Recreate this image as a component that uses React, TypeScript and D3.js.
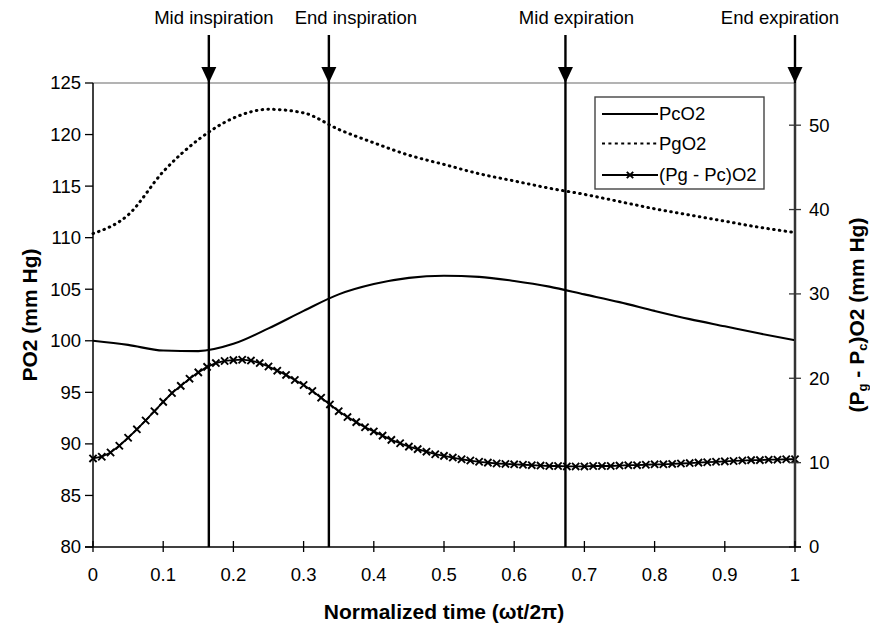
import React from "react";
import * as d3 from "d3";

// ---- data ----
const TIME_LINES = [0, 0.05, 0.1, 0.15, 0.2, 0.25, 0.3, 0.35, 0.4, 0.45, 0.5, 0.55, 0.6, 0.65, 0.7, 0.75, 0.8, 0.85, 0.9, 0.95, 1];
const PC_O2 = [100.0, 99.6, 99.05, 99.0, 99.7, 101.2, 102.9, 104.5, 105.5, 106.1, 106.3, 106.2, 105.8, 105.25, 104.5, 103.75, 102.9, 102.1, 101.4, 100.7, 100.05];
const PG_O2 = [110.4, 112.2, 116.4, 119.5, 121.6, 122.45, 122.1, 120.5, 119.2, 118.0, 117.1, 116.2, 115.5, 114.8, 114.2, 113.5, 112.8, 112.2, 111.6, 111.0, 110.5];

const TIME_DIFF = [
  0, 0.0125, 0.025, 0.0375, 0.05, 0.0625, 0.075, 0.0875, 0.1, 0.1125,
  0.125, 0.1375, 0.15, 0.1625, 0.175, 0.1875, 0.2, 0.2125, 0.225, 0.2375,
  0.25, 0.2625, 0.275, 0.2875, 0.3, 0.3125, 0.325, 0.3375, 0.35, 0.3625,
  0.375, 0.3875, 0.4, 0.4125, 0.425, 0.4375, 0.45, 0.4625, 0.475, 0.4875,
  0.5, 0.5125, 0.525, 0.5375, 0.55, 0.5625, 0.575, 0.5875, 0.6, 0.6125,
  0.625, 0.6375, 0.65, 0.6625, 0.675, 0.6875, 0.7, 0.7125, 0.725, 0.7375,
  0.75, 0.7625, 0.775, 0.7875, 0.8, 0.8125, 0.825, 0.8375, 0.85, 0.8625,
  0.875, 0.8875, 0.9, 0.9125, 0.925, 0.9375, 0.95, 0.9625, 0.975, 0.9875, 1,
];
const DIFF_O2 = [
  10.5, 10.7, 11.2, 12.0, 12.95, 13.95, 15.0, 16.1, 17.2, 18.25,
  19.1, 19.95, 20.7, 21.35, 21.8, 22.05, 22.15, 22.2, 22.1, 21.8,
  21.4, 20.9, 20.4, 19.8, 19.2, 18.5, 17.7, 16.9, 16.1, 15.4,
  14.8, 14.2, 13.7, 13.2, 12.7, 12.3, 11.9, 11.6, 11.3, 11.0,
  10.8, 10.6, 10.4, 10.25, 10.1, 10.0, 9.9, 9.85, 9.8, 9.75,
  9.7, 9.65, 9.6, 9.6, 9.55, 9.55, 9.55, 9.6, 9.6, 9.6,
  9.65, 9.7, 9.7, 9.75, 9.8, 9.8, 9.85, 9.9, 9.95, 10.0,
  10.05, 10.1, 10.15, 10.2, 10.25, 10.3, 10.3, 10.35, 10.35, 10.4, 10.4,
];

const X_TICKS = [0, 0.1, 0.2, 0.3, 0.4, 0.5, 0.6, 0.7, 0.8, 0.9, 1];
const X_TICK_LABELS = ["0", "0.1", "0.2", "0.3", "0.4", "0.5", "0.6", "0.7", "0.8", "0.9", "1"];
const LEFT_TICKS = [80, 85, 90, 95, 100, 105, 110, 115, 120, 125];
const RIGHT_TICKS = [0, 10, 20, 30, 40, 50];

const EVENT_TIMES = [0.165, 0.336, 0.673, 1];
const EVENT_LABELS = ["Mid inspiration", "End inspiration", "Mid expiration", "End expiration"];
const EVENT_LABEL_SHIFT = [5, 27, 11, -15];

const LEGEND_LABELS = ["PcO2", "PgO2", "(Pg - Pc)O2"];

// ---- layout ----
const W = 870;
const H = 628;
const X0 = 93;
const X1 = 795;
const YTOP = 83;
const YBOT = 547;
const FONT = "'Liberation Sans', Arial, Helvetica, sans-serif";
const FS = 18.5;
const TITLE_FS = 21;

export default function App() {
  const x = d3.scaleLinear().domain([0, 1]).range([X0, X1]);
  const yL = d3.scaleLinear().domain([80, 125]).range([YBOT, YTOP]);
  const yR = d3.scaleLinear().domain([0, 55]).range([YBOT, YTOP]);

  const lineL = d3
    .line<number>()
    .x((_, i) => x(TIME_LINES[i]))
    .y((d) => yL(d))
    .curve(d3.curveMonotoneX);
  const lineR = d3
    .line<number>()
    .x((_, i) => x(TIME_DIFF[i]))
    .y((d) => yR(d));

  const cross = (cx: number, cy: number, s: number) =>
    `M${cx - s},${cy - s}L${cx + s},${cy + s}M${cx - s},${cy + s}L${cx + s},${cy - s}`;

  const legX = 595;
  const legY = 97;
  const legRows = [114, 143.5, 175];

  return (
    <svg
      width={W}
      height={H}
      viewBox={`0 0 ${W} ${H}`}
      style={{ position: "absolute", left: 0, top: 0, background: "#fff" }}
      fontFamily={FONT}
    >
      <rect x={0} y={0} width={W} height={H} fill="#fff" />

      {/* top border of plot */}
      <line x1={X0} x2={X1} y1={YTOP} y2={YTOP} stroke="#9a9a9a" strokeWidth={1.5} />

      {/* series */}
      <path d={lineL(PG_O2) || ""} fill="none" stroke="#000" strokeWidth={3} strokeDasharray="0.6 5.2" strokeLinecap="round" />
      <path d={lineL(PC_O2) || ""} fill="none" stroke="#000" strokeWidth={2.1} />
      <path d={lineR(DIFF_O2) || ""} fill="none" stroke="#000" strokeWidth={1.8} />
      {DIFF_O2.map((v, i) => (
        <path key={i} d={cross(x(TIME_DIFF[i]), yR(v), 3.6)} stroke="#000" strokeWidth={1.9} fill="none" />
      ))}

      {/* event lines and arrows */}
      {EVENT_TIMES.map((t, i) => {
        const ex = x(t);
        return (
          <g key={i}>
            <line x1={ex} x2={ex} y1={35} y2={YBOT} stroke="#000" strokeWidth={2.4} />
            <path d={`M${ex - 7.5},${67} L${ex + 7.5},${67} L${ex},${YTOP} Z`} fill="#000" />
            <text x={ex + EVENT_LABEL_SHIFT[i]} y={24} textAnchor="middle" fontSize={FS} fill="#000">
              {EVENT_LABELS[i]}
            </text>
          </g>
        );
      })}

      {/* left axis */}
      <line x1={X0} x2={X0} y1={YTOP} y2={YBOT} stroke="#000" strokeWidth={1.5} />
      {LEFT_TICKS.map((v) => (
        <g key={v}>
          <line x1={X0 - 8} x2={X0} y1={yL(v)} y2={yL(v)} stroke="#000" strokeWidth={1.3} />
          <text x={X0 - 12} y={yL(v)} dy="0.35em" textAnchor="end" fontSize={FS} fill="#000">
            {v}
          </text>
        </g>
      ))}

      {/* right axis */}
      <line x1={X1} x2={X1} y1={YTOP} y2={YBOT} stroke="#333" strokeWidth={2} />
      {RIGHT_TICKS.map((v) => (
        <g key={v}>
          <line x1={X1 - 6} x2={X1 + 6} y1={yR(v)} y2={yR(v)} stroke="#333" strokeWidth={1.3} />
          <text x={X1 + 14} y={yR(v)} dy="0.35em" textAnchor="start" fontSize={FS} fill="#000">
            {v}
          </text>
        </g>
      ))}

      {/* bottom axis */}
      <line x1={X0 - 8} x2={X1 + 6} y1={YBOT} y2={YBOT} stroke="#000" strokeWidth={1.5} />
      {X_TICKS.map((v, i) => (
        <g key={v}>
          <line x1={x(v)} x2={x(v)} y1={YBOT - 6} y2={YBOT + 5} stroke="#000" strokeWidth={1.3} />
          <text x={x(v)} y={575} dy="0.35em" textAnchor="middle" fontSize={FS} fill="#000">
            {X_TICK_LABELS[i]}
          </text>
        </g>
      ))}

      {/* axis titles */}
      <text x={444} y={612} dy="0.35em" textAnchor="middle" fontSize={TITLE_FS} fontWeight="bold" fill="#000">
        Normalized time (ωt/2π)
      </text>
      <text transform={`translate(30,${(YTOP + YBOT) / 2}) rotate(-90)`} dy="0.35em" textAnchor="middle" fontSize={TITLE_FS} fontWeight="bold" fill="#000">
        PO2 (mm Hg)
      </text>
      <text transform={`translate(857,${(YTOP + YBOT) / 2}) rotate(-90)`} dy="0.35em" textAnchor="middle" fontSize={TITLE_FS} fontWeight="bold" fill="#000">
        (P<tspan fontSize={13} dy={3}>g</tspan>
        <tspan dy={-3}> - P</tspan>
        <tspan fontSize={13} dy={3}>c</tspan>
        <tspan dy={-3}>)O2 (mm Hg)</tspan>
      </text>

      {/* legend */}
      <rect x={legX} y={legY} width={169} height={92} fill="#fff" stroke="#444" strokeWidth={1.4} />
      {LEGEND_LABELS.map((lab, i) => {
        const ly = legRows[i];
        return (
          <g key={lab}>
            <line
              x1={602}
              x2={658}
              y1={ly}
              y2={ly}
              stroke="#000"
              strokeWidth={i === 1 ? 2 : 1.8}
              strokeDasharray={i === 1 ? "3 3.4" : undefined}
            />
            {i === 2 && <path d={cross(630, ly, 3.2)} stroke="#000" strokeWidth={1.9} fill="none" />}
            <text x={659} y={ly} dy="0.35em" fontSize={FS} fill="#000">
              {lab}
            </text>
          </g>
        );
      })}
    </svg>
  );
}
